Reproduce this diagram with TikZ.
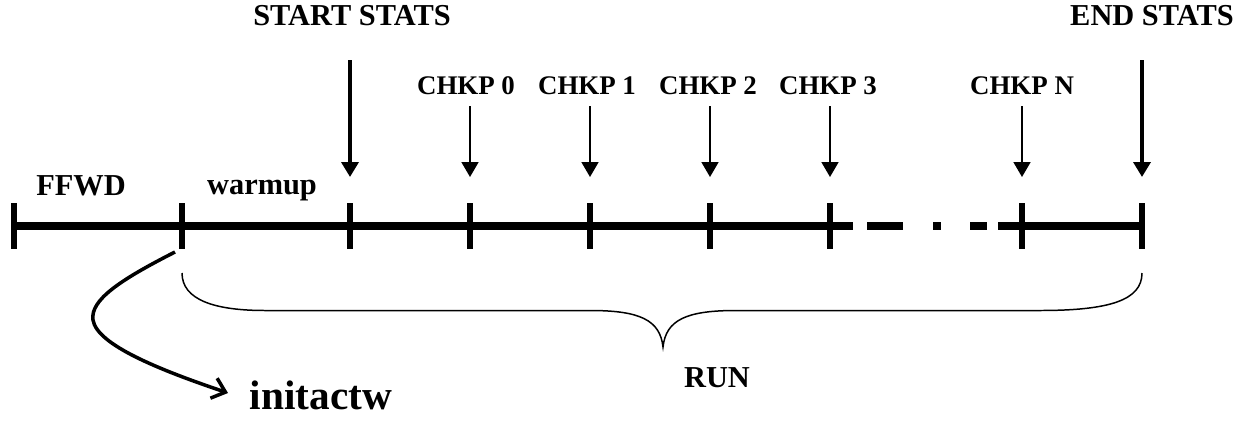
\documentclass[tikz,border=0pt]{standalone}
\usepackage{fontspec}
\setmainfont{Liberation Serif}
\usetikzlibrary{arrows.meta}
\tikzset{
  lbl/.style={font=\bfseries\fontsize{17.3}{20}\selectfont, inner sep=0pt, anchor=base},
  chk/.style={font=\bfseries\fontsize{15.3}{18}\selectfont, inner sep=0pt, anchor=base},
  axis/.style={line width=5pt},
  tick/.style={line width=3.3pt},
  bigarr/.style={line width=2.3pt, -{Triangle[length=8.5pt,width=9.6pt]}},
  smallarr/.style={line width=1.1pt, -{Triangle[length=8.5pt,width=9.6pt]}},
  bracestyle/.style={line width=0.85pt},
  curvearr/.style={line width=2pt, -{Straight Barb[length=7pt,width=12pt,line width=2pt]}},
}
\begin{document}
\begin{tikzpicture}[x=0.02cm,y=-0.02cm]
\useasboundingbox (0,0) rectangle (1250,423);
% ticks positions
\foreach \n/\x in {t0/14,t1/182,t2/350,t3/470,t4/590,t5/710,t6/830,t7/1022,t8/1142}{
  \coordinate (\n top) at (\x,203);
  \coordinate (\n bot) at (\x,249);
  \coordinate (\n mid) at (\x,226);
}
% main axis segments
\coordinate (d1) at (853,226); \coordinate (d2) at (867,226); \coordinate (d3) at (903,226);
\coordinate (d4) at (933,226); \coordinate (d5) at (941,226); \coordinate (d6) at (970,226);
\coordinate (d7) at (987,226); \coordinate (d8) at (998,226);
\draw[axis] (t0mid) -- (d1);
\draw[axis] (d2) -- (d3);
\draw[axis] (d4) -- (d5);
\draw[axis] (d6) -- (d7);
\draw[axis] (d8) -- (t8mid);
\foreach \n in {t0,t1,t2,t3,t4,t5,t6,t7,t8}{
  \draw[tick] (\n top) -- (\n bot);
}
% labels
\node[lbl] (ffwd) at (81,195) {FFWD};
\node[lbl] (warm) at (262,194) {warmup};
\node[lbl] (ss) at (352,25) {START STATS};
\node[lbl] (es) at (1152,25) {END STATS};
\node[chk] (c0) at (466,94.5) {CHKP 0};
\node[chk] (c1) at (587,94.5) {CHKP 1};
\node[chk] (c2) at (708,94.5) {CHKP 2};
\node[chk] (c3) at (828,94.5) {CHKP 3};
\node[chk] (cn) at (1022,94.5) {CHKP N};
\node[lbl] (run) at (717,387) {RUN};
\node[lbl, font=\bfseries\fontsize{23.5}{26}\selectfont] (init) at (321,409) {initactw};
% arrows
\coordinate (a2s) at (350,60); \coordinate (a2e) at (350,177);
\coordinate (a8s) at (1142,60); \coordinate (a8e) at (1142,177);
\draw[bigarr] (a2s) -- (a2e);
\draw[bigarr] (a8s) -- (a8e);
\foreach \x/\n in {470/3,590/4,710/5,830/6,1022/7}{
  \coordinate (as\n) at (\x,106);
  \coordinate (ae\n) at (\x,177);
  \draw[smallarr] (as\n) -- (ae\n);
}
% brace
\coordinate (bl) at (182,273); \coordinate (br) at (1142,273); \coordinate (btip) at (663,347);
\draw[bracestyle] (bl) .. controls (182,300) and (215,310.5) .. (265,310.5) -- (590,310.5)
   .. controls (640,310.5) and (660,320) .. (btip)
   .. controls (666,320) and (686,310.5) .. (736,310.5) -- (1040,310.5)
   .. controls (1110,310.5) and (1142,300) .. (br);
% curved arrow
\coordinate (cs) at (175,252); \coordinate (ce) at (228,393);
\draw[curvearr] (cs) .. controls (120,280) and (90,300) .. (93,320)
   .. controls (97,345) and (160,370) .. (ce);
\end{tikzpicture}
\end{document}
